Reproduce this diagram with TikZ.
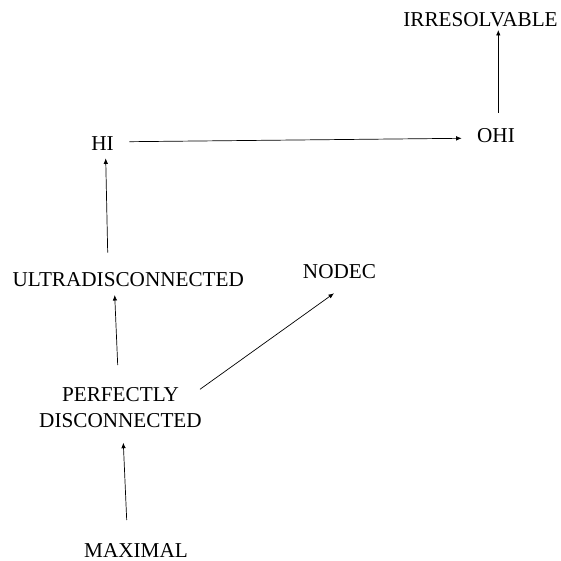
\documentclass[tikz,border=0pt]{standalone}
\usepackage{fontspec}
\setmainfont{Liberation Serif}
\usepackage{tikz}
\usetikzlibrary{arrows.meta,calc}
\tikzset{prop/.style={inner sep=0pt,align=center,font=\fontsize{21.2}{25.6}\selectfont}}

\begin{document}
\begin{tikzpicture}[
            x=1pt,y=-1pt,
            arrow/.style={line width=0.7pt,-{Latex[length=5.5pt,width=4.5pt]},black}
        ]
            \useasboundingbox (0,0) rectangle (561,561);
            % properties
            \node [prop] (irr) at (480.5,20) {IRRESOLVABLE};
            \node [prop] (ohi) at (496,136) {OHI};
            \node [prop] (hi) at (102.5,143.3) {HI};
            \node [prop] (ultra) at (128.3,279.7) {ULTRADISCONNECTED};
            \node [prop] (nodec) at (339.5,272) {NODEC};
            \node [prop] (perf) at (120.5,407.3) {PERFECTLY\\DISCONNECTED};
            \node [prop] (maxi) at (136,550) {MAXIMAL};
            % implications
            \draw [arrow] ($(maxi)+(-9.3,-30)$) -- ($(perf)+(2.8,35.4)$);
            \draw [arrow] ($(perf)+(-2.8,-42.3)$) -- ($(ultra)+(-13.6,15.3)$);
            \draw [arrow] ($(perf)+(79.5,-18)$) -- ($(nodec)+(-5.5,21.3)$);
            \draw [arrow] ($(ultra)+(-20.6,-27)$) -- ($(hi)+(3.2,15)$);
            \draw [arrow] ($(hi)+(26.8,-1.6)$) -- ($(ohi)+(-34.3,2.3)$);
            \draw [arrow] ($(ohi)+(2.3,-23.3)$) -- ($(irr)+(17.8,10)$);
        \end{tikzpicture}
\end{document}
